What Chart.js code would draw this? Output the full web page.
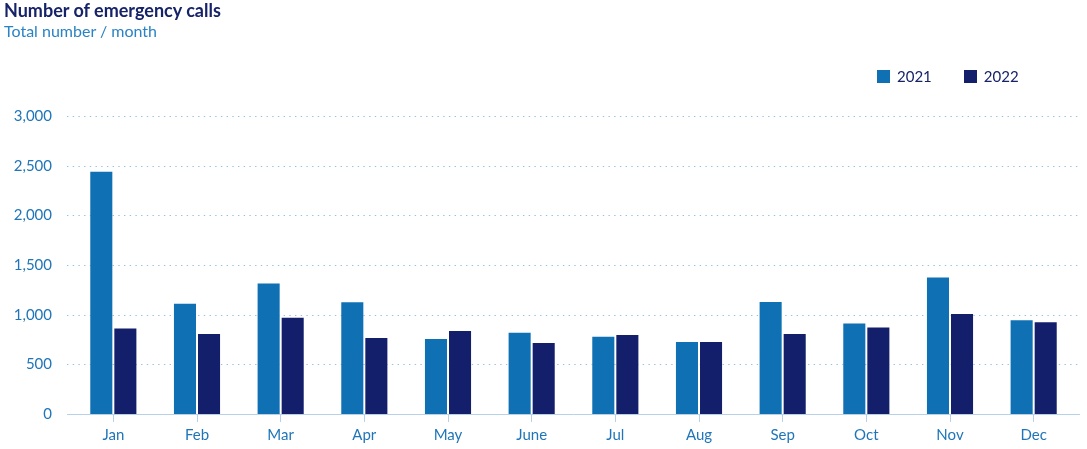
<!DOCTYPE html>
<html>
<head>
<meta charset="utf-8">
<script src="https://cdn.jsdelivr.net/npm/chart.js@4.4.1/dist/chart.umd.min.js"></script>
<style>
  html, body { margin: 0; padding: 0; background: #fff; }
  body { width: 1087px; height: 449px; position: relative; overflow: hidden; font-family: Lato, "Noto Sans", sans-serif; }
  #wrap { position: absolute; left: 0; top: 0; width: 1087px; height: 449px; }
  #title { position: absolute; left: 4px; top: 1px; font-size: 18px; line-height: 18px; font-weight: 700; color: #172368; white-space: nowrap; z-index: 2; }
  #subtitle { position: absolute; left: 4px; top: 22px; font-size: 16px; line-height: 17px; color: #2a83c4; white-space: nowrap; z-index: 2; }
  #legend { position: absolute; left: 877px; top: 67px; display: flex; align-items: center; z-index: 2; font-size: 15px; color: #172368; }
  .item { display: flex; align-items: center; margin-right: 32px; }
  .item:last-child { margin-right: 0; }
  .sw { width: 13px; height: 13px; margin-right: 7px; display: inline-block; }
</style>
</head>
<body>
<div id="title">Number of emergency calls</div>
<div id="subtitle">Total number / month</div>
<div id="legend"></div>
<div id="wrap"><canvas id="c"></canvas></div>
<script>
const months = ['Jan', 'Feb', 'Mar', 'Apr', 'May', 'June', 'Jul', 'Aug', 'Sep', 'Oct', 'Nov', 'Dec'];
const seriesNames = ['2021', '2022'];
const calls2021 = [2450, 1120, 1325, 1135, 765, 828, 788, 735, 1138, 920, 1385, 953];
const calls2022 = [870, 815, 980, 775, 845, 725, 805, 735, 815, 880, 1017, 933];
const yTicks = [0, 500, 1000, 1500, 2000, 2500, 3000];

const colors = ['#0f71b4', '#131f6b'];
const tickColor = '#1f75b8';
const gridColor = '#93c2e3';
const axisColor = '#b6d1e8';

// HTML legend built from the series
const legendEl = document.getElementById('legend');
seriesNames.forEach((n, i) => {
  const it = document.createElement('span');
  it.className = 'item';
  const sw = document.createElement('span');
  sw.className = 'sw';
  sw.style.background = colors[i];
  const tx = document.createElement('span');
  tx.textContent = n;
  it.appendChild(sw); it.appendChild(tx);
  legendEl.appendChild(it);
});

const gridPlugin = {
  id: 'dottedGrid',
  beforeDatasetsDraw(chart) {
    const { ctx, chartArea, scales: { y } } = chart;
    const ext = 4.5;
    ctx.save();
    ctx.lineWidth = 1;
    y.ticks.forEach(t => {
      const py = Math.round(y.getPixelForValue(t.value)) + 0.5;
      ctx.beginPath();
      if (t.value === 0) {
        ctx.setLineDash([]);
        ctx.strokeStyle = axisColor;
      } else {
        ctx.setLineDash([1.4, 4.3]);
        ctx.strokeStyle = gridColor;
      }
      ctx.moveTo(chartArea.left - ext, py);
      ctx.lineTo(chartArea.right + ext, py);
      ctx.stroke();
    });
    ctx.restore();
  }
};

new Chart(document.getElementById('c'), {
  type: 'bar',
  data: {
    labels: months,
    datasets: [
      { label: seriesNames[0], data: calls2021, backgroundColor: colors[0], borderColor: 'rgba(255,255,255,0.14)', borderWidth: 1 },
      { label: seriesNames[1], data: calls2022, backgroundColor: colors[1], borderColor: 'rgba(255,255,255,0.14)', borderWidth: 1 }
    ]
  },
  options: {
    responsive: true,
    maintainAspectRatio: false,
    animation: false,
    layout: { padding: { top: 116, left: 0, right: 11.5, bottom: 1 } },
    datasets: { bar: { categoryPercentage: 0.575, barPercentage: 1.0 } },
    plugins: {
      legend: { display: false },
      tooltip: { enabled: false },
      title: { display: false }
    },
    scales: {
      x: {
        grid: { display: true, drawOnChartArea: false, drawTicks: true, tickLength: 8, offset: false, color: axisColor, lineWidth: 1 },
        border: { display: false },
        ticks: { color: tickColor, font: { family: 'Lato', size: 15 }, padding: 4, maxRotation: 0, autoSkip: false }
      },
      y: {
        min: 0,
        max: 3000,
        afterBuildTicks: (s) => { s.ticks = yTicks.map(v => ({ value: v })); },
        afterFit: (s) => { s.width = 71.5; },
        grid: { display: false, drawTicks: false },
        border: { display: false },
        ticks: { color: tickColor, font: { family: 'Lato', size: 15 }, padding: 19.5 }
      }
    }
  },
  plugins: [gridPlugin]
});
</script>
</body>
</html>
